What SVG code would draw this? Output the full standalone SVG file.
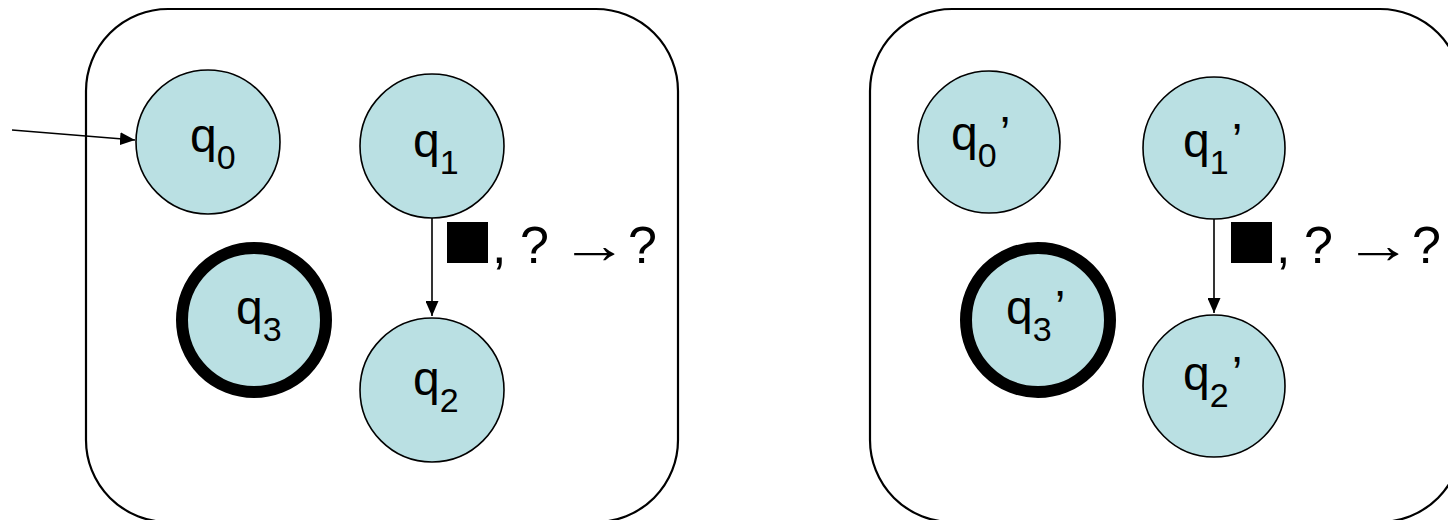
<svg xmlns="http://www.w3.org/2000/svg" width="1448" height="520" viewBox="0 0 1448 520">
  <style>
    .frame { fill: none; stroke: #000; stroke-width: 2.2; }
    .state { fill: #bae0e3; stroke: #000; stroke-width: 1.6; }
    .accept { fill: #bae0e3; stroke: #000; stroke-width: 12; }
    .edge { fill: none; stroke: #000; stroke-width: 1.6; }
    .lbl { font-family: "Liberation Sans", Arial, sans-serif; font-size: 48px; fill: #000; }
    .sub { font-size: 34px; }
    .trans { font-family: "Liberation Sans", "DejaVu Sans", Arial, sans-serif; font-size: 52px; fill: #000; }
  </style>
  <defs>
    <marker id="head" viewBox="0 0 15 13" refX="15" refY="6.5" markerWidth="15" markerHeight="13" markerUnits="userSpaceOnUse" orient="auto">
      <path d="M0,0 L15,6.5 L0,13 Z" fill="#000"/>
    </marker>
  </defs>

  <rect width="1448" height="520" fill="#fff"/>

  <!-- machine frames -->
  <g id="frame-left"><rect class="frame" x="86" y="9" width="592" height="513" rx="82" ry="82"/></g>
  <g id="frame-right"><rect class="frame" x="870" y="9" width="592" height="513" rx="82" ry="82"/></g>

  <!-- left machine states -->
  <g id="q0">
    <circle class="state" cx="208" cy="142" r="72"/>
    <text class="lbl" x="190" y="152">q<tspan class="sub" dy="17">0</tspan></text>
  </g>
  <g id="q1">
    <circle class="state" cx="432" cy="146" r="72"/>
    <text class="lbl" x="413" y="157">q<tspan class="sub" dy="17">1</tspan></text>
  </g>
  <g id="q3">
    <circle class="accept" cx="254" cy="320" r="72"/>
    <text class="lbl" x="236" y="324">q<tspan class="sub" dy="17">3</tspan></text>
  </g>
  <g id="q2">
    <circle class="state" cx="432" cy="390" r="72"/>
    <text class="lbl" x="413" y="395">q<tspan class="sub" dy="17">2</tspan></text>
  </g>

  <!-- right machine states -->
  <g id="q0p">
    <circle class="state" cx="989" cy="142" r="71"/>
    <text class="lbl" x="951" y="150">q<tspan class="sub" dy="17">0</tspan><tspan dy="-17" dx="3">’</tspan></text>
  </g>
  <g id="q1p">
    <circle class="state" cx="1214" cy="148" r="71"/>
    <text class="lbl" x="1183" y="157">q<tspan class="sub" dy="17">1</tspan><tspan dy="-17" dx="3">’</tspan></text>
  </g>
  <g id="q3p">
    <circle class="accept" cx="1038" cy="320" r="72"/>
    <text class="lbl" x="1006" y="324">q<tspan class="sub" dy="17">3</tspan><tspan dy="-17" dx="3">’</tspan></text>
  </g>
  <g id="q2p">
    <circle class="state" cx="1214" cy="386" r="71"/>
    <text class="lbl" x="1183" y="390">q<tspan class="sub" dy="17">2</tspan><tspan dy="-17" dx="3">’</tspan></text>
  </g>

  <!-- transitions -->
  <g id="connectors">
    <line class="edge" x1="12" y1="130" x2="135" y2="140" marker-end="url(#head)"/>
    <line class="edge" x1="432" y1="218" x2="432" y2="316" marker-end="url(#head)"/>
    <line class="edge" x1="1214" y1="219" x2="1214" y2="313" marker-end="url(#head)"/>
  </g>

  <!-- transition labels: symbol box, then ", ? → ?" -->
  <g id="label-left">
    <rect x="447" y="222" width="41" height="41" fill="#000"/>
    <text class="trans" y="263"><tspan x="492">,</tspan><tspan x="520">?</tspan></text>
    <text class="trans" x="560" y="263" textLength="68" lengthAdjust="spacingAndGlyphs">→</text>
    <text class="trans" x="628" y="263">?</text>
  </g>
  <g id="label-right">
    <rect x="1231" y="222" width="41" height="41" fill="#000"/>
    <text class="trans" y="263"><tspan x="1276">,</tspan><tspan x="1304">?</tspan></text>
    <text class="trans" x="1344" y="263" textLength="68" lengthAdjust="spacingAndGlyphs">→</text>
    <text class="trans" x="1412" y="263">?</text>
  </g>
</svg>
